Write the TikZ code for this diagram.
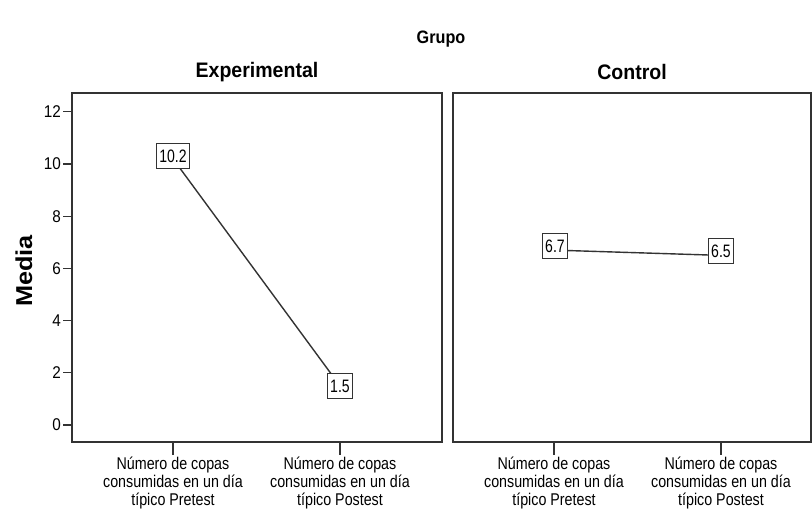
\documentclass[tikz,border=0pt]{standalone}
\usepackage{fontspec}
\setmainfont{Liberation Sans}
\newfontfamily\ticksf[FakeStretch=0.9]{Liberation Sans}
\newfontfamily\xlabsf[FakeStretch=0.84]{Liberation Sans}
\newfontfamily\valsf[FakeStretch=0.78]{Liberation Sans}
\newfontfamily\ttlsf[FakeStretch=0.93]{Liberation Sans}
\newfontfamily\grpsf[FakeStretch=0.9]{Liberation Sans}
\newfontfamily\medsf[FakeStretch=1.1]{Liberation Sans}
\begin{document}
\begin{tikzpicture}[x=1pt,y=-1pt,
  frame/.style={draw=black!80,line width=1.4pt},
  tickln/.style={draw=black!80,line width=1.2pt},
  ticklab/.style={anchor=east,inner sep=1pt,font=\ticksf\fontsize{17}{17}\selectfont},
  xlab/.style={anchor=north,align=center,inner sep=0pt,font=\xlabsf\fontsize{17}{18}\selectfont},
  ttl/.style={font=\ttlsf\bfseries\fontsize{21}{21}\selectfont},
  val/.style={draw=black!80,line width=1.1pt,fill=white,inner xsep=3pt,inner ysep=6pt,
    text height=13pt,text depth=0pt,font=\valsf\fontsize{18}{18}\selectfont},
  conn/.style={draw=black!80,line width=1.4pt}]
\useasboundingbox (0,0) rectangle (812,514);
\node[font=\grpsf\bfseries\fontsize{18}{18}\selectfont] (grupo) at (441,39) {Grupo};
\node[ttl] (texp) at (257,72) {Experimental};
\node[ttl] (tctl) at (632,72) {Control};
\node[font=\medsf\bfseries\fontsize{23}{23}\selectfont,rotate=90] (media) at (24,271) {Media};
% frames
\draw[frame] (72,93) rectangle (442,442);
\draw[frame] (453,93) rectangle (811,442);
% y ticks
\foreach \v in {0,2,4,6,8,10,12}{
  \pgfmathsetmacro{\yy}{425-26.1*\v}
  \draw[tickln] (63,\yy) -- (72,\yy);
  \node[ticklab] (yl\v) at (62,\yy) {\v};
}
% x ticks and labels
\foreach \xx/\nm/\tx in {173/a/Pretest,340/b/Postest,554/c/Pretest,721/d/Postest}{
  \draw[tickln] (\xx,442) -- (\xx,455);
  \node[xlab] (xl\nm) at (\xx,457) {Número de copas\\consumidas en un día\\típico \tx};
}
% data points
\coordinate (pe1) at (173,158.8);
\coordinate (pe2) at (340,385.9);
\coordinate (pc1) at (554,250.1);
\coordinate (pc2) at (721,255.4);
\draw[conn] (pe1) -- (pe2);
\draw[conn] (pc1) -- (pc2);
% value labels
\node[val] (e1) at (173,156) {10.2};
\node[val] (e2) at (340,386) {1.5};
\node[val] (c1) at (555,246) {6.7};
\node[val] (c2) at (721,251) {6.5};
\end{tikzpicture}
\end{document}
